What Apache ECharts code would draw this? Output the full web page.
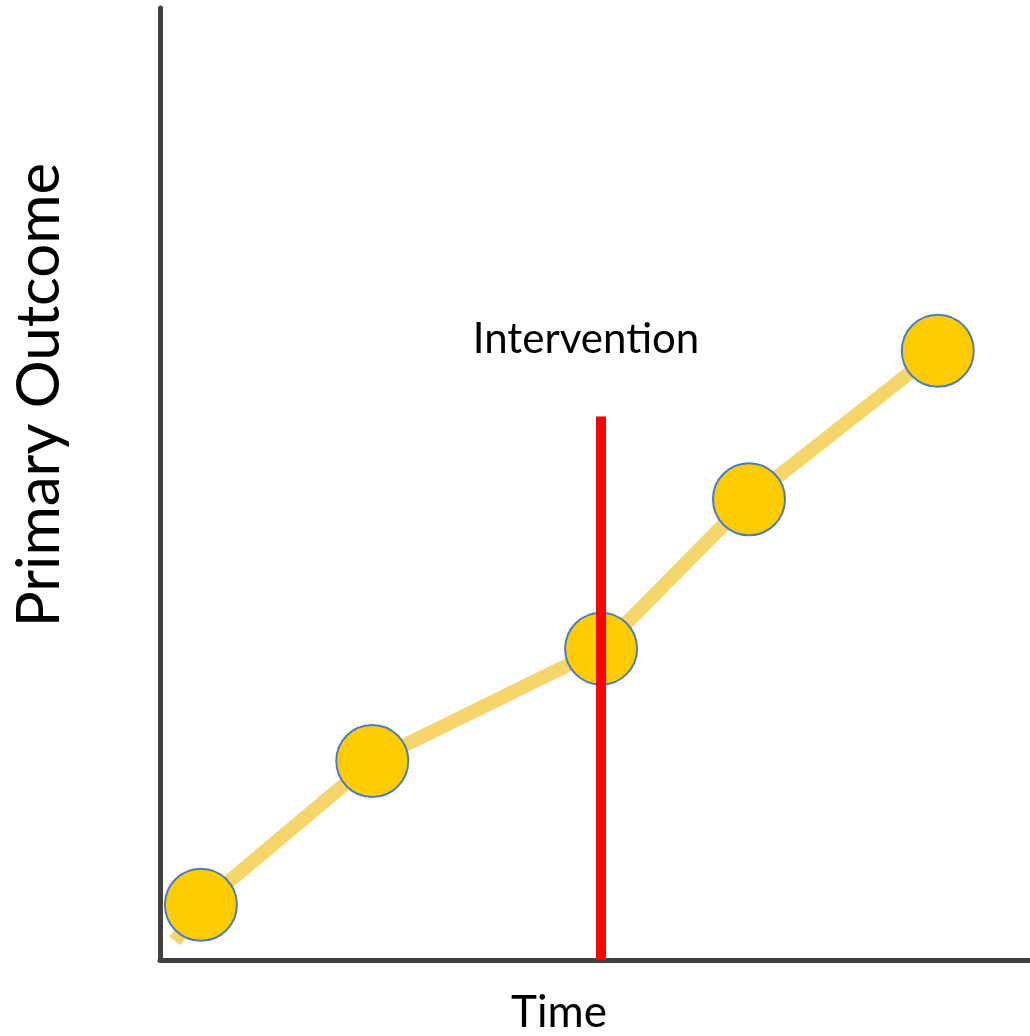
<!DOCTYPE html>
<html><head><meta charset="utf-8">
<script src="https://cdn.jsdelivr.net/npm/echarts@6/dist/echarts.min.js"></script>
<style>html,body{margin:0;padding:0;background:#fff;width:100%;height:100%;overflow:hidden}#c{width:100%;height:100%}</style>
</head><body><div id="c"></div>
<script>
// Time (x) and outcome (y) in arbitrary units
const timePoints = [4.7, 24.4, 50.7, 67.7, 89.4];
const outcomeValues = [5.8, 20.9, 32.7, 48.4, 64.0];
// trend line has a short lead-in before the first observation
const trendTime = [1.7, 4.7, 24.4, 50.7, 67.7, 89.4];
const trendValues = [2.0, 5.8, 20.9, 32.7, 48.4, 64.0];
const interventionTime = 50.7;
const interventionTop = 57.1;
const xLabel = 'Time';
const yLabel = 'Primary Outcome';
const interventionLabel = 'Intervention';

const chart = echarts.init(document.getElementById('c'));
const font = 'Lato, "Open Sans", sans-serif';
chart.setOption({
  animation: false,
  grid: {left: 160, right: 0, top: 8, bottom: 76},
  graphic: [
    {type: 'text', x: 40, y: 395, rotation: Math.PI / 2,
     style: {text: yLabel, font: '60px ' + font, fill: '#000', align: 'center', verticalAlign: 'middle'}},
    {type: 'text', x: 559, y: 1013,
     style: {text: xLabel, font: '44px ' + font, fill: '#000', align: 'center', verticalAlign: 'middle'}},
    {type: 'text', x: 586, y: 339,
     style: {text: interventionLabel, font: '42px ' + font, fill: '#000', align: 'center', verticalAlign: 'middle'}}
  ],
  xAxis: {
    type: 'value', min: 0, max: 100,
    axisLine: {show: true, lineStyle: {color: '#404040', width: 5}},
    axisTick: {show: false}, axisLabel: {show: false}, splitLine: {show: false}
  },
  yAxis: {
    type: 'value', min: 0, max: 100,
    axisLine: {show: true, lineStyle: {color: '#404040', width: 5}},
    axisTick: {show: false}, axisLabel: {show: false}, splitLine: {show: false}
  },
  series: [
    {
      type: 'line', z: 1,
      data: trendTime.map((t, i) => [t, trendValues[i]]),
      symbol: 'none',
      lineStyle: {color: '#F6D56A', width: 14}
    },
    {
      type: 'line', z: 2, data: [], symbol: 'none',
      markLine: {
        silent: true, symbol: ['none', 'none'],
        lineStyle: {color: '#FF0000', width: 10, type: 'solid'},
        label: {show: false},
        data: [[{coord: [interventionTime, 0]}, {coord: [interventionTime, interventionTop]}]]
      }
    },
    {
      type: 'scatter', z: 3,
      data: timePoints.map((t, i) => [t, outcomeValues[i]]),
      symbolSize: 72,
      itemStyle: {color: '#FFCC00', borderColor: '#4A7EBB', borderWidth: 2, opacity: 1}
    }
  ]
});
</script></body></html>
